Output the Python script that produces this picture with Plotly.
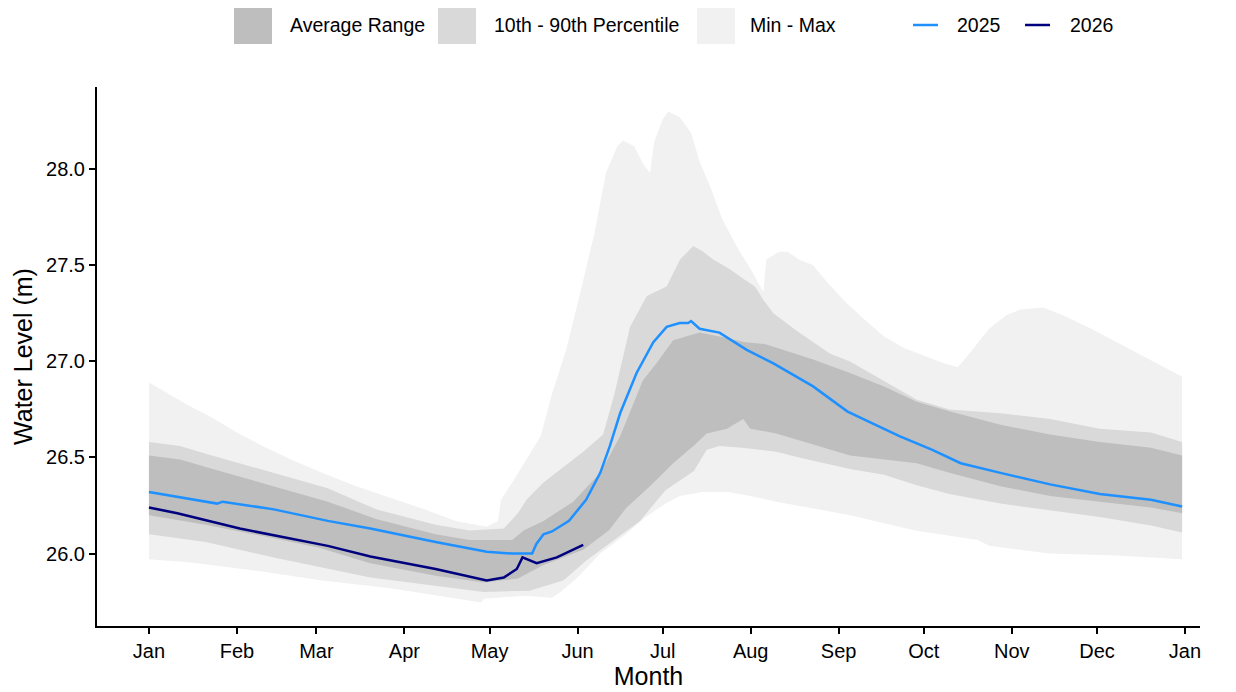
import plotly.graph_objects as go

# ---------------- data (day of year, water level in m) ----------------
month_ticks = [0, 31, 59, 90, 120, 151, 181, 212, 243, 273, 304, 334, 365]
month_labels = ["Jan", "Feb", "Mar", "Apr", "May", "Jun", "Jul", "Aug", "Sep", "Oct", "Nov", "Dec", "Jan"]
y_ticks = [26.0, 26.5, 27.0, 27.5, 28.0]

mm_hi_day = [0, 7, 14, 22, 31, 40, 50, 61, 73, 85, 97, 108, 119, 123, 124, 128, 133, 138, 142, 147, 152, 157,
             161, 165, 167, 171, 174, 176.5, 178, 181, 183, 187, 191, 194, 198, 202, 207, 212, 216.5, 217.5, 222,
             225, 229, 234, 239, 246, 252, 259, 266, 273, 280, 285, 289, 296, 302, 307, 315, 322, 332, 341, 350, 364]
mm_hi = [26.89, 26.83, 26.77, 26.71, 26.63, 26.56, 26.49, 26.42, 26.35, 26.29, 26.23, 26.17, 26.14, 26.17, 26.28,
         26.37, 26.49, 26.61, 26.83, 27.06, 27.36, 27.67, 27.98, 28.12, 28.15, 28.12, 28.03, 27.98, 28.14, 28.26,
         28.30, 28.27, 28.19, 28.04, 27.90, 27.74, 27.60, 27.48, 27.36, 27.53, 27.57, 27.57, 27.53, 27.50, 27.41,
         27.30, 27.22, 27.13, 27.07, 27.03, 26.99, 26.97, 27.04, 27.17, 27.24, 27.27, 27.28, 27.24, 27.17, 27.10,
         27.03, 26.92]

mm_lo_day = [0, 14, 38, 61, 85, 102, 117, 118, 132, 142, 145, 151, 159, 168, 175, 182, 187, 195, 204, 212, 221,
             229, 247, 270, 292, 296, 317, 341, 364]
mm_lo = [25.97, 25.955, 25.91, 25.86, 25.82, 25.78, 25.745, 25.765, 25.78, 25.77, 25.80, 25.875, 26.0, 26.10,
         26.19, 26.26, 26.30, 26.32, 26.32, 26.30, 26.27, 26.25, 26.20, 26.12, 26.07, 26.04, 26.0, 25.99, 25.97]

p_hi_day = [0, 11, 20, 44, 63, 80, 101, 113, 125, 130, 133, 139, 146, 153, 160, 164, 169.5, 175.4, 182.4, 187.1,
            191.8, 195.3, 198.8, 204.7, 209.4, 213.5, 216.5, 220, 228.2, 240, 247, 259, 270.5, 282, 300, 317.5,
            335, 353, 364]
p_hi = [26.58, 26.56, 26.52, 26.42, 26.34, 26.23, 26.15, 26.12, 26.13, 26.21, 26.28, 26.37, 26.45, 26.53, 26.62,
        26.83, 27.18, 27.34, 27.39, 27.53, 27.60, 27.57, 27.53, 27.48, 27.43, 27.39, 27.32, 27.25, 27.16, 27.04,
        27.00, 26.90, 26.80, 26.75, 26.73, 26.70, 26.65, 26.63, 26.58]

p_lo_day = [0, 20, 44, 78, 101, 118, 134, 146, 154, 162, 173, 182, 192, 196.5, 201, 209, 221, 229, 247, 259,
            270.5, 282, 300, 317.5, 335, 353, 364]
p_lo = [26.10, 26.06, 25.98, 25.876, 25.833, 25.80, 25.807, 25.86, 25.963, 26.05, 26.17, 26.33, 26.43, 26.54,
        26.56, 26.55, 26.53, 26.50, 26.44, 26.41, 26.355, 26.31, 26.26, 26.225, 26.19, 26.146, 26.11]

a_hi_day = [0, 11, 20, 44, 63, 80, 101, 113, 128, 132, 139, 149.5, 155, 159, 166, 170, 174, 178.8, 184.7, 194,
            201, 210, 217, 234, 247, 259, 270.5, 282, 300, 317.5, 335, 353, 364]
a_hi = [26.51, 26.49, 26.45, 26.35, 26.27, 26.18, 26.10, 26.07, 26.07, 26.12, 26.17, 26.27, 26.36, 26.42, 26.61,
        26.76, 26.90, 26.99, 27.11, 27.15, 27.13, 27.10, 27.09, 27.01, 26.94, 26.87, 26.79, 26.74, 26.67, 26.62,
        26.58, 26.55, 26.51]

a_lo_day = [0, 20, 44, 60, 78, 101, 118, 130, 139, 153, 162, 168.3, 176.5, 184.7, 191.8, 196.5, 203.6, 209.4,
            211.8, 221, 229, 247, 259, 270.5, 282, 300, 317.5, 335, 353, 364]
a_lo = [26.20, 26.15, 26.08, 26.03, 25.95, 25.885, 25.85, 25.87, 25.94, 26.02, 26.12, 26.24, 26.35, 26.47, 26.56,
        26.625, 26.65, 26.70, 26.65, 26.625, 26.59, 26.51, 26.49, 26.47, 26.42, 26.35, 26.30, 26.27, 26.24, 26.21]

y2025_day = [0, 24, 26, 44, 63, 78, 101, 119, 128, 135, 136.5, 139, 142, 148, 154, 159, 162.4, 166, 171.8, 177.7,
             182.4, 187, 190, 191, 194, 201, 210.6, 220, 234, 246, 256, 264.6, 276, 286, 300, 317.5, 335, 353, 364]
y2025 = [26.32, 26.26, 26.27, 26.23, 26.17, 26.13, 26.06, 26.01, 26.0, 26.0, 26.05, 26.10, 26.115, 26.17, 26.28,
         26.42, 26.56, 26.73, 26.94, 27.10, 27.18, 27.20, 27.20, 27.21, 27.17, 27.15, 27.06, 26.99, 26.87, 26.74,
         26.67, 26.61, 26.54, 26.47, 26.42, 26.36, 26.31, 26.28, 26.245]

y2026_day = [0, 10, 32, 63, 78, 101, 119, 125, 129.6, 131.6, 136.6, 143.7, 153]
y2026 = [26.24, 26.21, 26.13, 26.04, 25.985, 25.92, 25.86, 25.875, 25.92, 25.98, 25.95, 25.98, 26.045]

band_names = ["Average Range", "10th - 90th Percentile", "Min - Max"]
band_colors = ["#BEBEBE", "#D9D9D9", "#F1F1F1"]
line_names = ["2025", "2026"]
line_colors = ["#1E90FF", "#00007F"]

FONT = "Liberation Sans, Arial, sans-serif"

fig = go.Figure()


def band(xh, yh, xl, yl, color):
    fig.add_trace(go.Scatter(
        x=list(xh) + list(xl)[::-1],
        y=list(yh) + list(yl)[::-1],
        fill="toself", fillcolor=color, mode="lines", line=dict(width=0, color=color),
        hoverinfo="skip", showlegend=False))


band(mm_hi_day, mm_hi, mm_lo_day, mm_lo, band_colors[2])
band(p_hi_day, p_hi, p_lo_day, p_lo, band_colors[1])
band(a_hi_day, a_hi, a_lo_day, a_lo, band_colors[0])

fig.add_trace(go.Scatter(x=y2025_day, y=y2025, mode="lines", name="2025",
                         line=dict(color=line_colors[0], width=2.5), showlegend=False))
fig.add_trace(go.Scatter(x=y2026_day, y=y2026, mode="lines", name="2026",
                         line=dict(color=line_colors[1], width=2.5), showlegend=False))

# ---------------- layout ----------------
# the page places the figure 8px from the window's top-left corner
OFF = 8
SW, SH = 1236, 692                     # window size
PL, PR, PT, PB = 97, 1200, 87, 626     # plot area in window pixels
W, H = SW - OFF, SH - OFF
L, T = PL - OFF, PT - OFF
R, B = SW - PR, SH - PB
pw, ph = PR - PL, PB - PT


def px(xp):
    return (xp - PL) / pw


def py(yp):
    return (PB - yp) / ph


shapes = []
annotations = []
key_x = [234, 438, 697]
text_x = [288, 492, 748]
for i in range(3):
    shapes.append(dict(type="rect", xref="paper", yref="paper",
                       x0=px(key_x[i]), x1=px(key_x[i] + 38), y0=py(44), y1=py(6),
                       fillcolor=band_colors[i], line=dict(width=0)))
    annotations.append(dict(xref="paper", yref="paper", x=px(text_x[i]), y=py(25),
                            xanchor="left", yanchor="middle", text=band_names[i], showarrow=False,
                            font=dict(family=FONT, size=19.5, color="black")))
lkey_x = [913, 1025]
ltext_x = [955, 1068]
for i in range(2):
    shapes.append(dict(type="line", xref="paper", yref="paper",
                       x0=px(lkey_x[i]), x1=px(lkey_x[i] + 25), y0=py(25), y1=py(25),
                       line=dict(color=line_colors[i], width=2.5)))
    annotations.append(dict(xref="paper", yref="paper", x=px(ltext_x[i]), y=py(25),
                            xanchor="left", yanchor="middle", text=line_names[i], showarrow=False,
                            font=dict(family=FONT, size=19.5, color="black")))

fig.update_layout(
    width=W, height=H,
    margin=dict(l=L, r=R, t=T, b=B, autoexpand=False),
    paper_bgcolor="white", plot_bgcolor="white",
    font=dict(family=FONT, color="black"),
    shapes=shapes, annotations=annotations,
    showlegend=False,
    xaxis=dict(range=[-18.3, 370.3], tickvals=month_ticks, ticktext=month_labels,
               showgrid=False, zeroline=False, showline=True, linecolor="black", linewidth=2,
               ticks="outside", ticklen=6, tickwidth=2, tickcolor="black",
               tickfont=dict(family=FONT, size=20, color="black"),
               title=dict(text="Month", font=dict(family=FONT, size=25, color="black"), standoff=2)),
    yaxis=dict(range=[25.623, 28.428], tickvals=y_ticks, tickformat=".1f",
               showgrid=False, zeroline=False, showline=True, linecolor="black", linewidth=2,
               ticks="outside", ticklen=6, tickwidth=2, tickcolor="black",
               tickfont=dict(family=FONT, size=20, color="black"),
               title=dict(text="Water Level (m)", font=dict(family=FONT, size=25, color="black"), standoff=6)),
)

fig.write_html("out.html")
